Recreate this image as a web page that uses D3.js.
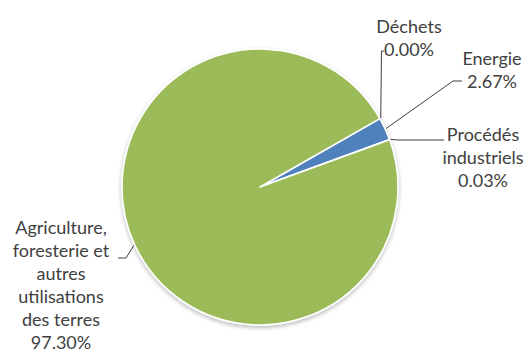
<!DOCTYPE html>
<html>
<head>
<meta charset="utf-8">
<script src="https://cdn.jsdelivr.net/npm/d3@7"></script>
<style>
  html, body { margin: 0; padding: 0; background: #fff; }
  svg { display: block; }
  text { font-family: Lato, "Open Sans", sans-serif; fill: #404040; }
</style>
</head>
<body>
<div id="chart"></div>
<script>
// Émissions par secteur (part en %)
const categories = ["Déchets", "Energie", "Procédés industriels", "Agriculture, foresterie et autres utilisations des terres"];
const shares = [0.00, 2.67, 0.03, 97.30];
const shareLabels = ["0.00%", "2.67%", "0.03%", "97.30%"];
const labelLines = [
  ["Déchets"],
  ["Energie"],
  ["Procédés", "industriels"],
  ["Agriculture,", "foresterie et", "autres", "utilisations", "des terres"]
];
const colors = ["#C0504D", "#4F81BD", "#8064A2", "#9BBB59"];

const width = 529, height = 349;
const cx = 260, cy = 187, radius = 138;
const lineH = 23;

// label placement: text centre x, first baseline y, leader elbow and end
const labelLayout = [
  { x: 409, y: 33,  elbow: [381.5, 51], end: [384, 51] },
  { x: 492, y: 65,  elbow: [453, 81],   end: [462, 81] },
  { x: 483, y: 141, elbow: [398, 140],  end: [444, 140] },
  { x: 61,  y: 234, elbow: [126, 258],  end: [118, 258] }
];

const svg = d3.select("#chart").append("svg")
  .attr("width", width).attr("height", height);

const defs = svg.append("defs");
const f = defs.append("filter").attr("id", "pieShadow")
  .attr("x", "-10%").attr("y", "-10%").attr("width", "120%").attr("height", "120%");
f.append("feDropShadow").attr("dx", 0).attr("dy", 2).attr("stdDeviation", 2)
  .attr("flood-color", "#000").attr("flood-opacity", 0.28);

const data = categories.map((c, i) => ({ name: c, value: shares[i], i }));

const pie = d3.pie().value(d => d.value).sort(null)
  .startAngle(60.3 * Math.PI / 180)
  .endAngle(60.3 * Math.PI / 180 + 2 * Math.PI);
const arcs = pie(data);

const arc = d3.arc().innerRadius(0).outerRadius(radius);

const g = svg.append("g").attr("transform", `translate(${cx},${cy})`);

g.append("g").attr("filter", "url(#pieShadow)")
  .selectAll("path").data(arcs).join("path")
  .attr("d", arc)
  .attr("fill", d => colors[d.data.i])
  .attr("stroke", "#fff")
  .attr("stroke-width", 1.6)
  .attr("stroke-linejoin", "round");

// leader lines from slice edge to each label
const edgePoint = (a, r) => {
  const m = (a.startAngle + a.endAngle) / 2;
  return [cx + r * Math.sin(m), cy - r * Math.cos(m)];
};

svg.append("g").selectAll("polyline").data(arcs).join("polyline")
  .attr("points", d => {
    const L = labelLayout[d.data.i];
    return [edgePoint(d, radius + 1), L.elbow, L.end].map(p => p.join(",")).join(" ");
  })
  .attr("fill", "none")
  .attr("stroke", "#404040")
  .attr("stroke-width", 1);

// labels: category name lines followed by the share
const labels = svg.append("g").selectAll("text").data(arcs).join("text")
  .attr("text-anchor", "middle")
  .attr("font-size", 18);

labels.each(function(d) {
  const L = labelLayout[d.data.i];
  const lines = labelLines[d.data.i].concat([shareLabels[d.data.i]]);
  d3.select(this).selectAll("tspan").data(lines).join("tspan")
    .attr("x", L.x)
    .attr("y", (t, k) => L.y + k * lineH)
    .text(t => t);
});
</script>
</body>
</html>
